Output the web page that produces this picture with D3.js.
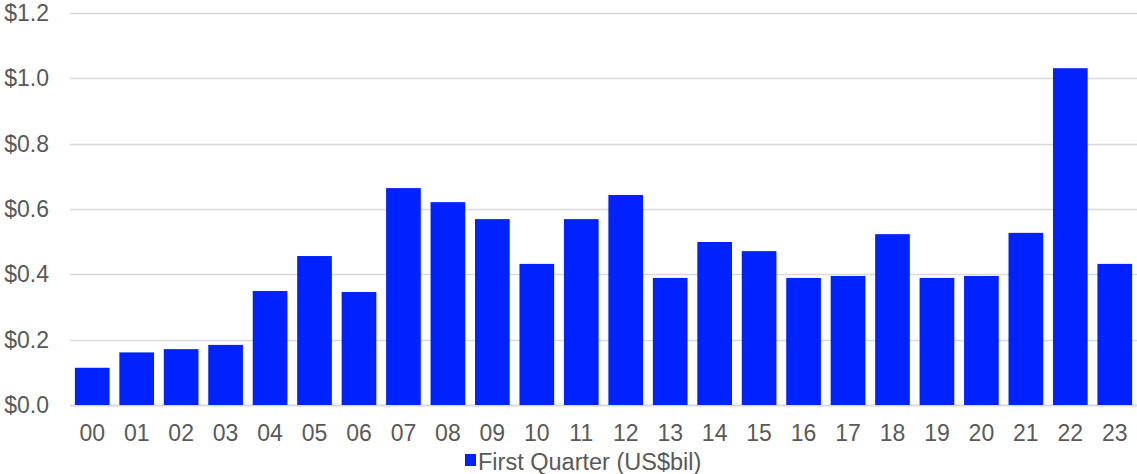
<!DOCTYPE html>
<html>
<head>
<meta charset="utf-8">
<script src="https://cdn.jsdelivr.net/npm/d3@7"></script>
<style>
  body { margin: 0; background: #fff; }
  svg { display: block; font-family: "Liberation Sans", Arial, sans-serif; }
</style>
</head>
<body>
<svg id="chart"></svg>
<script>
const years = ["00","01","02","03","04","05","06","07","08","09","10","11",
               "12","13","14","15","16","17","18","19","20","21","22","23"];
const firstQuarter = [0.114,0.161,0.171,0.184,0.349,0.456,0.346,0.664,0.621,0.569,0.432,0.569,
                      0.643,0.389,0.499,0.471,0.389,0.395,0.523,0.389,0.395,0.527,1.031,0.432];
const yTicks = [0, 0.2, 0.4, 0.6, 0.8, 1.0, 1.2];
const seriesName = "First Quarter (US$bil)";

const width = 1137, height = 474;
const margin = { top: 13, right: 0, bottom: 69, left: 70 };
const barColor = "#0022ff";
const textColor = "#595959";
const gridColor = "#d9d9d9";
const fontSize = "23px";

const svg = d3.select("#chart").attr("width", width).attr("height", height);

const x = d3.scaleBand()
  .domain(years)
  .range([margin.left, width - margin.right])
  .paddingInner(0.22)
  .paddingOuter(0.11);

const y = d3.scaleLinear()
  .domain([0, 1.2])
  .range([height - margin.bottom, margin.top]);

// gridlines
svg.append("g")
  .selectAll("line")
  .data(yTicks)
  .enter()
  .append("line")
  .attr("x1", margin.left)
  .attr("x2", width - margin.right)
  .attr("y1", (d) => Math.round(y(d)) + 0.5)
  .attr("y2", (d) => Math.round(y(d)) + 0.5)
  .attr("stroke", gridColor)
  .attr("stroke-width", (d) => d === 0 ? 2 : 1.5);

// y axis labels
const yAxis = d3.axisLeft(y).tickValues(yTicks).tickSize(0).tickPadding(0)
  .tickFormat((d) => "$" + d3.format(".1f")(d));
svg.append("g")
  .attr("transform", "translate(49,0)")
  .call(yAxis)
  .call((g) => g.select(".domain").remove())
  .selectAll("text")
  .attr("fill", textColor)
  .style("font-size", fontSize);

// bars
svg.append("g")
  .selectAll("rect")
  .data(firstQuarter)
  .enter()
  .append("rect")
  .attr("x", (d, i) => x(years[i]))
  .attr("width", x.bandwidth())
  .attr("y", (d) => y(d))
  .attr("height", (d) => y(0) - y(d))
  .attr("fill", barColor);

// x axis labels
const xAxis = d3.axisBottom(x).tickSize(0).tickPadding(0);
svg.append("g")
  .attr("transform", `translate(0,${y(0) + 20})`)
  .call(xAxis)
  .call((g) => g.select(".domain").remove())
  .selectAll("text")
  .attr("fill", textColor)
  .style("font-size", fontSize);

// legend
const legend = svg.append("g").attr("transform", "translate(465,454)");
legend.append("rect")
  .attr("width", 11).attr("height", 12)
  .attr("fill", barColor);
legend.append("text")
  .attr("x", 13).attr("y", 15.5)
  .attr("fill", textColor)
  .style("font-size", "23.5px")
  .text(seriesName);
</script>
</body>
</html>
